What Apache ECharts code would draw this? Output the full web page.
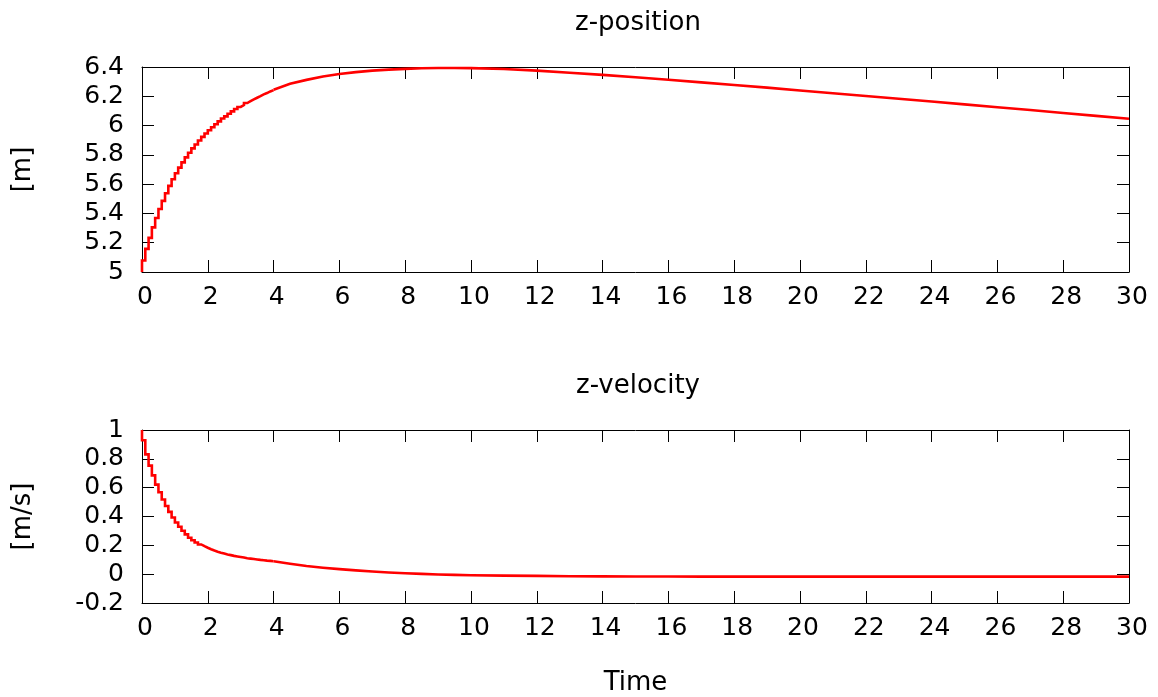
<!DOCTYPE html>
<html>
<head>
<meta charset="utf-8">
<script src="https://cdn.jsdelivr.net/npm/echarts@6/dist/echarts.min.js"></script>
<style>
  html, body { margin: 0; padding: 0; background: #fff; }
  #chart { width: 1158px; height: 697px; }
</style>
</head>
<body>
<div id="chart"></div>
<script>
// Sampled simulation output, 0.1 s steps over the start-up transient
const fineTime = [0.0, 0.1, 0.2, 0.3, 0.4, 0.5, 0.6, 0.7, 0.8, 0.9,
  1.0, 1.1, 1.2, 1.3, 1.4, 1.5, 1.6, 1.7, 1.8, 1.9,
  2.0, 2.1, 2.2, 2.3, 2.4, 2.5, 2.6, 2.7, 2.8, 2.9,
  3.0, 3.1, 3.2, 3.3, 3.4, 3.5, 3.6, 3.7, 3.8, 3.9, 4.0];
const posFine = [5.000, 5.079, 5.158, 5.233, 5.305, 5.369, 5.430, 5.486, 5.538, 5.588,
  5.633, 5.674, 5.713, 5.749, 5.783, 5.814, 5.844, 5.871, 5.898, 5.923,
  5.946, 5.968, 5.989, 6.009, 6.029, 6.048, 6.063, 6.081, 6.097, 6.113,
  6.127, 6.140, 6.154, 6.167, 6.179, 6.190, 6.201, 6.213, 6.222, 6.233, 6.242];
const velFine = [1.000, 0.929, 0.831, 0.753, 0.685, 0.621, 0.568, 0.518, 0.473, 0.432,
  0.393, 0.358, 0.329, 0.301, 0.276, 0.253, 0.235, 0.220, 0.206, 0.194,
  0.183, 0.173, 0.164, 0.156, 0.149, 0.143, 0.137, 0.132, 0.127, 0.123,
  0.119, 0.115, 0.111, 0.108, 0.105, 0.102, 0.099, 0.097, 0.094, 0.092, 0.090];

// Remainder of the run, where the trace is smooth
const coarseTime = [4, 4.5, 5, 5.5, 6, 6.5, 7, 7.5, 8, 8.5, 9, 9.5, 10,
  11, 12, 13, 14, 15, 16, 17, 18, 19, 20, 21, 22, 23, 24, 25, 26, 27, 28, 29, 30];
const posCoarse = [6.245, 6.285, 6.312, 6.335, 6.352, 6.365, 6.375, 6.382, 6.387, 6.391, 6.393, 6.393, 6.392,
  6.386, 6.375, 6.361, 6.346, 6.330, 6.313, 6.295, 6.277, 6.259, 6.240, 6.221, 6.202, 6.183,
  6.164, 6.145, 6.125, 6.106, 6.086, 6.066, 6.047];
const velCoarse = [0.089, 0.072, 0.057, 0.045, 0.035, 0.026, 0.018, 0.012, 0.006, 0.002, -0.002, -0.005, -0.007,
  -0.010, -0.012, -0.014, -0.015, -0.016, -0.016, -0.017, -0.017, -0.017, -0.017, -0.017, -0.017, -0.017,
  -0.017, -0.017, -0.017, -0.017, -0.017, -0.017, -0.017];

const timeRange = { min: 0, max: 30, interval: 2 };
const posRange = { min: 5, max: 6.4, interval: 0.2 };
const velRange = { min: -0.2, max: 1, interval: 0.2 };

const FONT = 'DejaVu Sans';
const INK = '#000';
const TRACE = '#ff0000';
const TICK_SIZE = 25;
const NAME_SIZE = 26;

const pairs = (xs, ys) => xs.map((x, i) => [x, ys[i]]);

function xAxisFor(gridIndex, position, withLabels, name) {
  return {
    type: 'value', gridIndex, position,
    min: timeRange.min, max: timeRange.max, interval: timeRange.interval,
    name: name || '', nameLocation: 'middle', nameGap: 67,
    nameTextStyle: { fontFamily: FONT, fontSize: NAME_SIZE, color: INK },
    axisLine: { show: true, onZero: false, lineStyle: { color: INK, width: 1 } },
    axisTick: { show: true, inside: true, length: 12, lineStyle: { color: INK, width: 1 } },
    axisLabel: { show: withLabels, fontFamily: FONT, fontSize: TICK_SIZE, color: INK, margin: 13,
      padding: [0, 0, 0, 6] },
    splitLine: { show: false }
  };
}

function yAxisFor(gridIndex, position, range, withLabels, name) {
  return {
    type: 'value', gridIndex, position,
    min: range.min, max: range.max, interval: range.interval,
    name: name || '', nameLocation: 'middle', nameGap: 106, nameRotate: 90,
    nameTextStyle: { fontFamily: FONT, fontSize: NAME_SIZE, color: INK },
    axisLine: { show: true, onZero: false, lineStyle: { color: INK, width: 1 } },
    axisTick: { show: true, inside: true, length: 12, lineStyle: { color: INK, width: 1 } },
    axisLabel: { show: withLabels, fontFamily: FONT, fontSize: TICK_SIZE, color: INK, margin: 18 },
    splitLine: { show: false }
  };
}

function trace(xIdx, yIdx, data, stepped) {
  return {
    type: 'line', xAxisIndex: xIdx, yAxisIndex: yIdx,
    data, step: stepped ? 'start' : false,
    showSymbol: false, symbol: 'none', silent: true, animation: false,
    lineStyle: { color: TRACE, width: 2.6, join: 'miter' }
  };
}

const chart = echarts.init(document.getElementById('chart'), null, { renderer: 'canvas' });
chart.setOption({
  animation: false,
  backgroundColor: '#fff',
  title: [
    { text: 'z-position', left: 633, top: 5, textAlign: 'center',
      textStyle: { fontFamily: FONT, fontSize: NAME_SIZE, fontWeight: 'normal', color: INK } },
    { text: 'z-velocity', left: 633, top: 368, textAlign: 'center',
      textStyle: { fontFamily: FONT, fontSize: NAME_SIZE, fontWeight: 'normal', color: INK } }
  ],
  grid: [
    { left: 142, right: 29, top: 67, height: 205 },
    { left: 142, right: 29, top: 430, height: 175 }
  ],
  xAxis: [
    xAxisFor(0, 'bottom', true),
    xAxisFor(0, 'top', false),
    xAxisFor(1, 'bottom', true, 'Time'),
    xAxisFor(1, 'top', false)
  ],
  yAxis: [
    yAxisFor(0, 'left', posRange, true, '[m]'),
    yAxisFor(0, 'right', posRange, false),
    yAxisFor(1, 'left', velRange, true, '[m/s]'),
    yAxisFor(1, 'right', velRange, false)
  ],
  series: [
    trace(0, 0, pairs(fineTime, posFine), true),
    trace(0, 0, pairs(coarseTime, posCoarse), false),
    trace(2, 2, pairs(fineTime, velFine), true),
    trace(2, 2, pairs(coarseTime, velCoarse), false)
  ]
});
</script>
</body>
</html>
